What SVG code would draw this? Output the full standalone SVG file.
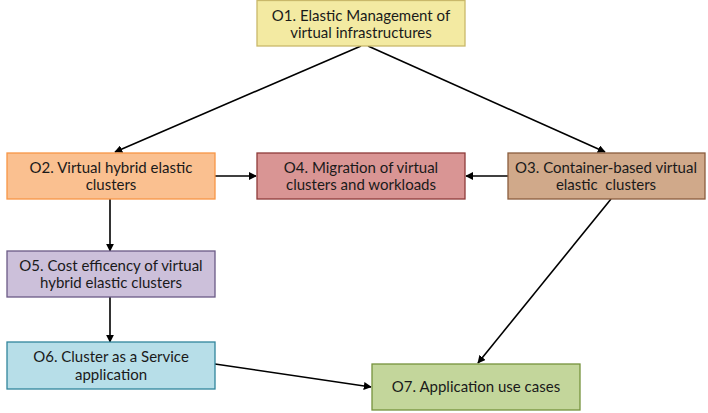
<svg xmlns="http://www.w3.org/2000/svg" width="708" height="413" viewBox="0 0 708 413">
<style>
text{font-family:Lato,"Open Sans","Liberation Sans",sans-serif;font-size:15px;fill:#1a1a1a;text-anchor:middle}
rect{stroke-width:1.3}
.c{stroke:#000;stroke-width:1.6;fill:none;marker-end:url(#a)}
</style>
<defs>
<marker id="a" viewBox="0 0 10 10" refX="9" refY="5" markerWidth="5" markerHeight="5" orient="auto" markerUnits="strokeWidth">
<path d="M0,0L10,5L0,10z" fill="#000"/>
</marker>
</defs>
<g id="connectors">
<line class="c" x1="361" y1="46" x2="115" y2="152"/>
<line class="c" x1="368" y1="46" x2="605" y2="152"/>
<line class="c" x1="215" y1="176" x2="256" y2="176"/>
<line class="c" x1="508" y1="176" x2="466" y2="176"/>
<line class="c" x1="110" y1="199" x2="110" y2="251"/>
<line class="c" x1="110" y1="297" x2="110" y2="342"/>
<line class="c" x1="215" y1="364" x2="371" y2="387"/>
<line class="c" x1="611" y1="199" x2="478" y2="363"/>
</g>
<g id="O1">
<rect x="257" y="0.5" width="208" height="45.5" fill="#F3EAA2" stroke="#C9B86A"/>
<text x="361" y="21">O1. Elastic Management of</text>
<text x="361" y="38">virtual infrastructures</text>
</g>
<g id="O2">
<rect x="7" y="153" width="208" height="46" fill="#FAC090" stroke="#F79646"/>
<text x="111" y="173">O2. Virtual hybrid elastic</text>
<text x="111" y="190">clusters</text>
</g>
<g id="O4">
<rect x="257" y="153" width="208" height="46" fill="#D99594" stroke="#8E3B39"/>
<text x="361" y="173">O4. Migration of virtual</text>
<text x="361" y="190">clusters and workloads</text>
</g>
<g id="O3">
<rect x="508" y="153" width="197" height="46" fill="#D0A98A" stroke="#8A5D3E"/>
<text x="606" y="173">O3. Container-based virtual</text>
<text x="606" y="190">elastic&#160; clusters</text>
</g>
<g id="O5">
<rect x="7" y="251" width="208" height="46" fill="#CCC0DA" stroke="#6B5A86"/>
<text x="111" y="271">O5. Cost efficency of virtual</text>
<text x="111" y="288">hybrid elastic clusters</text>
</g>
<g id="O6">
<rect x="7" y="342" width="208" height="47" fill="#B7DEE8" stroke="#31859C"/>
<text x="111" y="362">O6. Cluster as a Service</text>
<text x="111" y="380">application</text>
</g>
<g id="O7">
<rect x="372" y="364" width="208" height="46" fill="#C3D69B" stroke="#76923C"/>
<text x="476" y="392">O7. Application use cases</text>
</g>
</svg>
